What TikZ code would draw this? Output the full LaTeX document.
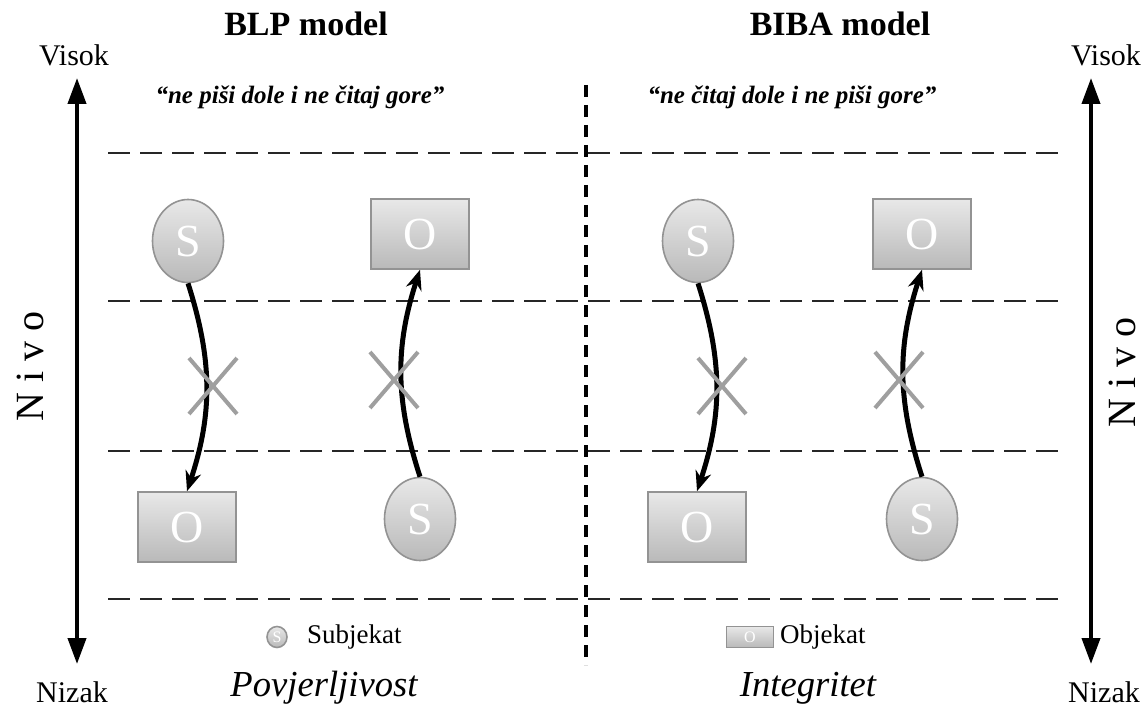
\documentclass[tikz,border=0pt]{standalone}
\usepackage{fontspec}
\setmainfont{Liberation Serif}
\usetikzlibrary{shapes.geometric,arrows.meta}

\tikzset{
  subj/.style={ellipse, draw=gray!85, thick, inner sep=0pt, minimum width=35.5pt, minimum height=41.5pt,
    top color=gray!18, bottom color=gray!55, text=white, font=\fontsize{23}{23}\selectfont},
  obj/.style={rectangle, draw=gray!85, thick, inner sep=0pt, minimum width=49pt, minimum height=35pt,
    top color=gray!18, bottom color=gray!55, text=white, font=\fontsize{23}{23}\selectfont},
  flow/.style={line width=2.5pt, -{Stealth[length=10pt,width=8pt]}},
  levelline/.style={dashed, dash pattern=on 11pt off 5pt, gray!30!black, line width=0.8pt},
  crossmark/.style={gray!75, line width=2pt},
  levelscale/.style={line width=2pt, {Triangle[length=13pt,width=9pt]}-{Triangle[length=13pt,width=9pt]}},
  lvl/.style={font=\fontsize{15}{16}\selectfont},
}

\begin{document}
\begin{tikzpicture}[x=0.5pt, y=-0.5pt]
\useasboundingbox (0,0) rectangle (1145,711);

%headings
\node (blp) at (306,24) {\fontsize{17}{18}\selectfont\bfseries BLP model};
\node (biba) at (840,24) {\fontsize{17}{18}\selectfont\bfseries BIBA model};
\node (blprule) at (300,97) {\fontsize{12.5}{13}\selectfont\bfseries\itshape ``ne piši dole i ne čitaj gore''};
\node (bibarule) at (792,97) {\fontsize{12.5}{13}\selectfont\bfseries\itshape ``ne čitaj dole i ne piši gore''};

%level scales
\node[lvl] (hiL) at (74,55) {Visok};
\node[lvl] (loL) at (72,692) {Nizak};
\node[lvl] (hiR) at (1106,55) {Visok};
\node[lvl] (loR) at (1104,692) {Nizak};
\coordinate (topL) at (77,78);
\coordinate (botL) at (77,664);
\coordinate (topR) at (1091,78);
\coordinate (botR) at (1091,664);
\draw[levelscale] (botL) -- (topL);
\draw[levelscale] (botR) -- (topR);
\node[rotate=90, font=\fontsize{20}{20}\selectfont] (nivoL) at (30,366) {N i v o};
\node[rotate=90, font=\fontsize{20}{20}\selectfont] (nivoR) at (1122,372) {N i v o};

%levels
\foreach \y in {153,301,451,599}
  \draw[levelline] (108,\y) -- (1062,\y);
\draw[dashed, dash pattern=on 6pt off 4pt, line width=1.8pt] (586,85) -- (586,665);

%BLP
\node[subj] (s1) at (188,241) {S};
\node[obj] (o1) at (187,527) {O};
\node[obj] (o2) at (420,234) {O};
\node[subj] (s2) at (420,519) {S};
\draw[flow] (s1.south) to[bend left=18] (o1.north);
\draw[flow] (s2.north) to[bend left=18] (o2.south);

%BIBA
\node[subj] (s3) at (698,241) {S};
\node[obj] (o3) at (697,527) {O};
\node[obj] (o4) at (922,234) {O};
\node[subj] (s4) at (922,519) {S};
\draw[flow] (s3.south) to[bend left=18] (o3.north);
\draw[flow] (s4.north) to[bend left=18] (o4.south);

%crosses
\foreach \cx/\cy in {213/386, 394/380, 722/386, 899/380}
  \draw[crossmark] (\cx-24,\cy-28) -- (\cx+24,\cy+28) (\cx-24,\cy+28) -- (\cx+24,\cy-28);

%legend
\node[subj, minimum width=10pt, minimum height=10.5pt, font=\fontsize{8}{8}\selectfont] (ls) at (277,637) {S};
\node[anchor=west, font=\fontsize{13.5}{14}\selectfont] (lst) at (300,637) {Subjekat};
\node[obj, minimum width=23.5pt, minimum height=10.5pt, font=\fontsize{8}{8}\selectfont] (lo) at (750,637) {O};
\node[anchor=west, font=\fontsize{13.5}{14}\selectfont] (lot) at (773,637) {Objekat};

%bottom captions
\node[font=\fontsize{18.3}{19}\selectfont\itshape] (conf) at (324,688) {Povjerljivost};
\node[font=\fontsize{18.3}{19}\selectfont\itshape] (integ) at (808,688) {Integritet};
\end{tikzpicture}
\end{document}
